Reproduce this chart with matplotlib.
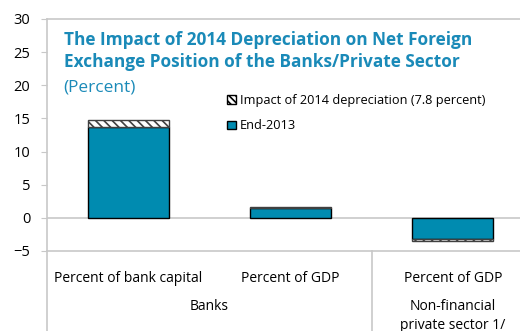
import matplotlib.pyplot as plt
from matplotlib.patches import Patch
import matplotlib.transforms as mtransforms
import numpy as np

plt.rcParams['font.family'] = ['Open Sans', 'DejaVu Sans']
plt.rcParams['hatch.linewidth'] = 1.2

# data
categories = ["Percent of bank capital", "Percent of GDP", "Percent of GDP"]
end_2013 = [13.7, 1.45, -3.2]
impact_2014 = [1.0, 0.15, -0.25]
groups = ["Banks", "Non-financial\nprivate sector 1/"]

blue = "#008bb0"
title_col = "#1a8ab8"
grey = "#c8c8c8"

fig = plt.figure(figsize=(5.2, 3.31), dpi=100)
ax = fig.add_axes([47/520, 80/331, 1 - 47/520, 232/331])

x = np.arange(len(categories))
ax.bar(x, end_2013, width=0.5, color=blue, edgecolor="black", linewidth=1.0, zorder=3)
ax.bar(x, impact_2014, width=0.5, bottom=end_2013, color="white",
       edgecolor="#404040", hatch="\\\\\\\\", linewidth=1.0, zorder=3)
ax.axhline(0, color=grey, lw=1.2, zorder=1)

ax.set_ylim(-5, 30)
ax.set_yticks(range(-5, 31, 5))
ax.set_xlim(-0.5, 2.5 - 14/162)
ax.set_xticks([])
ax.tick_params(axis="y", length=4, color=grey, labelsize=10.5, pad=8)
for s in ["left", "top", "bottom"]:
    ax.spines[s].set_color(grey)
    ax.spines[s].set_linewidth(1.2)
ax.spines["right"].set_visible(False)

# title block
title_lines = ["The Impact of 2014 Depreciation on Net Foreign",
               "Exchange Position of the Banks/Private Sector"]
for yy, line in zip([0.909, 0.814], title_lines):
    ax.text(0.035, yy, line, transform=ax.transAxes, fontsize=12.4,
            fontweight="bold", color=title_col, va="center", ha="left")
ax.text(0.035, 0.705, "(Percent)", transform=ax.transAxes, fontsize=12.4,
        color=title_col, va="center", ha="left")

# legend
leg_handles = [Patch(facecolor="white", edgecolor="black", hatch="\\\\\\\\\\"),
               Patch(facecolor=blue, edgecolor="black")]
ax.legend(leg_handles, ["Impact of 2014 depreciation (7.8 percent)", "End-2013"],
          loc="upper left", bbox_to_anchor=(0.37, 0.70), frameon=False,
          fontsize=9.2, handlelength=0.7, handleheight=0.7, handletextpad=0.3,
          labelspacing=1.0, borderaxespad=0)

# category axis labels
trans = mtransforms.blended_transform_factory(ax.transData, fig.transFigure)
for xi, lab in zip(x, categories):
    ax.text(xi, 1 - 279/331, lab, transform=trans, ha="center", va="center", fontsize=10)
ax.text(0.5, 1 - 306/331, groups[0], transform=trans, ha="center", va="center", fontsize=10)
ax.text(2, 1 - 299/331, groups[1], transform=trans, ha="center", va="top",
        fontsize=10, linespacing=1.4)

# group separators
tsep = mtransforms.blended_transform_factory(ax.transData, ax.transAxes)
for xs in [-0.5, 1.5]:
    ax.plot([xs, xs], [0, -0.4], transform=tsep, color=grey, lw=1.2, clip_on=False)

fig.savefig("out.png", dpi=100)
